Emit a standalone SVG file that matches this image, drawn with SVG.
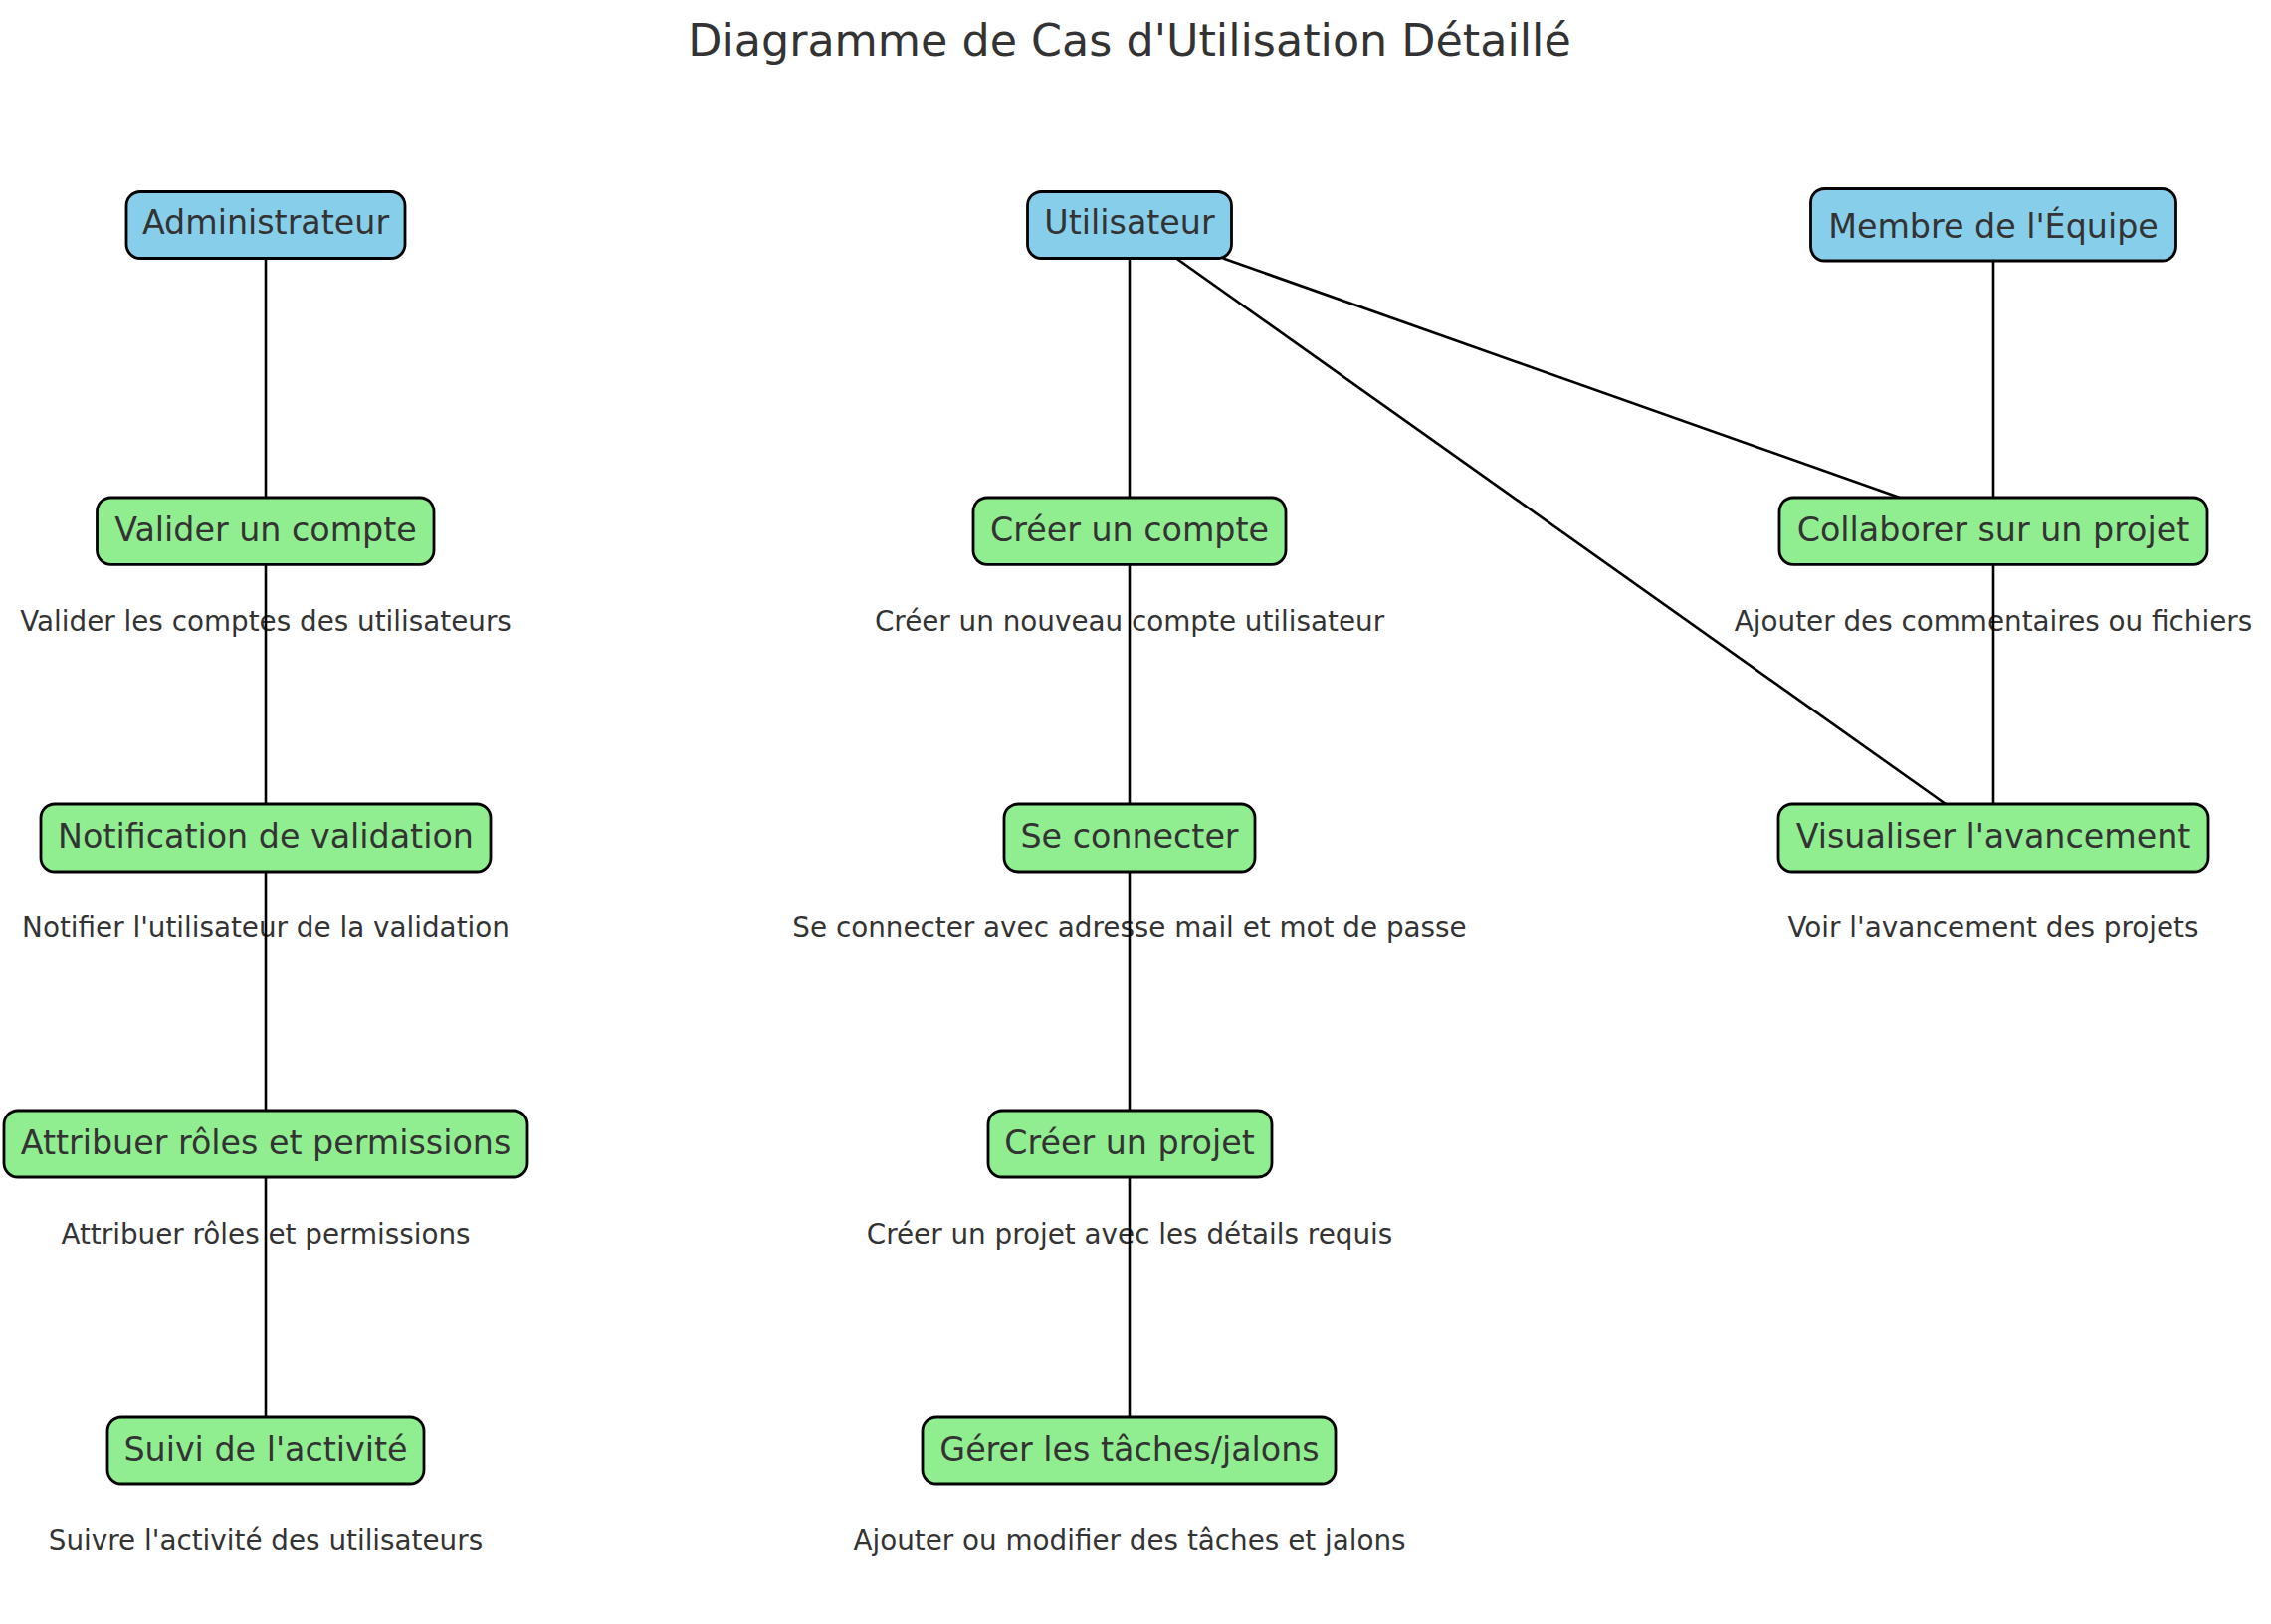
<svg xmlns="http://www.w3.org/2000/svg" width="2282" height="1632" viewBox="0 0 2282 1632">
<style>
.actor{fill:#87CEEB;stroke:#000;stroke-width:2.8}
.uc{fill:#90EE90;stroke:#000;stroke-width:2.8}
.lbl{font-family:"DejaVu Sans",sans-serif;font-size:33.3px;fill:#333;text-anchor:middle}
.desc{font-family:"DejaVu Sans",sans-serif;font-size:27.8px;fill:#333;text-anchor:middle}
.title{font-family:"DejaVu Sans",sans-serif;font-size:44.4px;fill:#333;text-anchor:middle}
.conn line{stroke:#000;stroke-width:2.6}
</style>
<rect width="2282" height="1632" fill="#fff"/>
<text class="title" x="1135" y="56">Diagramme de Cas d'Utilisation Détaillé</text>

<g id="admin"><rect class="actor" x="127" y="192.5" width="280" height="67" rx="14"/><text class="lbl" x="267" y="235">Administrateur</text></g>
<g id="utilisateur"><rect class="actor" x="1032.5" y="192.5" width="205" height="67" rx="14"/><text class="lbl" x="1135" y="235">Utilisateur</text></g>
<g id="membre"><rect class="actor" x="1819.5" y="189.5" width="367" height="72.5" rx="14"/><text class="lbl" x="2003" y="238.5">Membre de l'Équipe</text></g>

<g id="valider"><rect class="uc" x="97.5" y="500" width="338.5" height="67.3" rx="14"/><text class="lbl" x="267" y="544">Valider un compte</text><text class="desc" x="267" y="634">Valider les comptes des utilisateurs</text></g>
<g id="creer-compte"><rect class="uc" x="978" y="500" width="314" height="67.3" rx="14"/><text class="lbl" x="1135" y="544">Créer un compte</text><text class="desc" x="1135" y="634">Créer un nouveau compte utilisateur</text></g>
<g id="collaborer"><rect class="uc" x="1788" y="500" width="430" height="67.3" rx="14"/><text class="lbl" x="2003" y="544">Collaborer sur un projet</text><text class="desc" x="2003" y="634">Ajouter des commentaires ou fichiers</text></g>

<g id="notification"><rect class="uc" x="41" y="808" width="452" height="68" rx="14"/><text class="lbl" x="267" y="852">Notification de validation</text><text class="desc" x="267" y="942">Notifier l'utilisateur de la validation</text></g>
<g id="connecter"><rect class="uc" x="1009" y="808" width="252" height="68" rx="14"/><text class="lbl" x="1135" y="852">Se connecter</text><text class="desc" x="1135" y="942">Se connecter avec adresse mail et mot de passe</text></g>
<g id="visualiser"><rect class="uc" x="1787" y="808" width="432" height="68" rx="14"/><text class="lbl" x="2003" y="852">Visualiser l'avancement</text><text class="desc" x="2003" y="942">Voir l'avancement des projets</text></g>

<g id="attribuer"><rect class="uc" x="4" y="1116" width="526" height="67" rx="14"/><text class="lbl" x="267" y="1160">Attribuer rôles et permissions</text><text class="desc" x="267" y="1250">Attribuer rôles et permissions</text></g>
<g id="creer-projet"><rect class="uc" x="993" y="1116" width="285" height="67" rx="14"/><text class="lbl" x="1135" y="1160">Créer un projet</text><text class="desc" x="1135" y="1250">Créer un projet avec les détails requis</text></g>

<g id="suivi"><rect class="uc" x="108" y="1424" width="318" height="67" rx="14"/><text class="lbl" x="267" y="1468">Suivi de l'activité</text><text class="desc" x="267" y="1558">Suivre l'activité des utilisateurs</text></g>
<g id="gerer"><rect class="uc" x="927" y="1424" width="415" height="67" rx="14"/><text class="lbl" x="1135" y="1468">Gérer les tâches/jalons</text><text class="desc" x="1135" y="1558">Ajouter ou modifier des tâches et jalons</text></g>

<g id="connectors" class="conn">
<line x1="267" y1="259.5" x2="267" y2="500"/>
<line x1="267" y1="567" x2="267" y2="808"/>
<line x1="267" y1="876" x2="267" y2="1116"/>
<line x1="267" y1="1183" x2="267" y2="1424"/>
<line x1="1135" y1="259.5" x2="1135" y2="500"/>
<line x1="1135" y1="567" x2="1135" y2="808"/>
<line x1="1135" y1="876" x2="1135" y2="1116"/>
<line x1="1135" y1="1183" x2="1135" y2="1424"/>
<line x1="2003" y1="262" x2="2003" y2="500"/>
<line x1="2003" y1="567" x2="2003" y2="808"/>
<line x1="1229" y1="259.5" x2="1909" y2="500"/>
<line x1="1182" y1="259.5" x2="1955" y2="808"/>
</g>
</svg>
